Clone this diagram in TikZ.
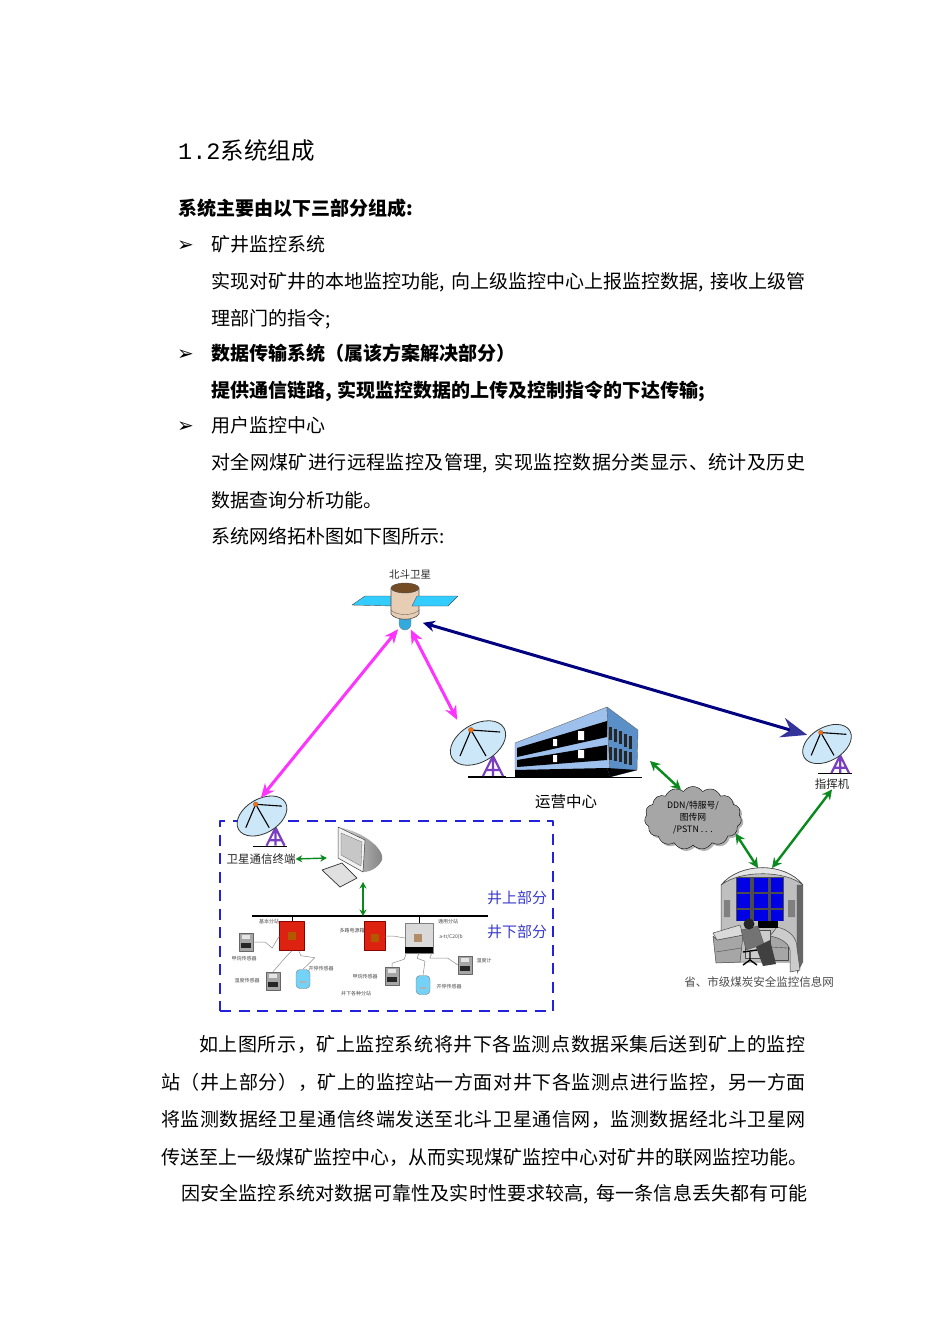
\documentclass[tikz,border=0pt]{standalone}
\usepackage{fontspec}
\setmainfont{Noto Sans CJK SC}
\newfontfamily\symfont{DejaVu Sans}
\newfontfamily\monofont{Liberation Mono}
\usetikzlibrary{arrows.meta,shapes.symbols,shadows}
\definecolor{skyfill}{HTML}{CCE8F8}
\definecolor{panelblue}{HTML}{33CCFF}
\definecolor{bldblue}{HTML}{9DC0EC}
\definecolor{bldside}{HTML}{5B8FC8}
\definecolor{linkgreen}{HTML}{0A8A1E}
\definecolor{linkpink}{HTML}{FF33FF}
\definecolor{linknavy}{HTML}{000080}
\definecolor{headnavy}{HTML}{333399}
\definecolor{boxblue}{HTML}{2222DD}
\definecolor{labelblue}{HTML}{3B3BCC}
\definecolor{standviolet}{HTML}{7A3FC0}
\definecolor{stationred}{HTML}{DD2211}
\definecolor{satbody}{HTML}{E8CDB5}
\definecolor{domeblue}{HTML}{33AADD}
\newcommand{\hc}[1]{\makebox[.65em][l]{#1}}
\newcommand{\qc}{\symbol{"FF0C}}
\newcommand{\qlp}{\symbol{"FF08}}
\newcommand{\qrp}{\symbol{"FF09}}
\newcommand{\bodyfont}{\fontsize{19}{19}\selectfont}
\newcommand{\bulletmark}{{\symfont\fontsize{20}{20}\selectfont ➢}}
\tikzset{
  bodytext/.style={anchor=west,inner sep=0,text height=15.5pt,text depth=1.1pt,font=\bodyfont},
  spaced/.style={font=\bodyfont\addfontfeature{LetterSpace=#1}},
  tinytext/.style={inner sep=0,text=black!70,font=\fontsize{5}{6}\selectfont},
  picttext/.style={inner sep=0,text=black!85,font=\fontsize{11.5}{12}\selectfont},
  bluetext/.style={inner sep=0,text=labelblue,font=\fontsize{15}{15}\selectfont},
  spot/.style={circle,inner sep=0,minimum size=#1},
  greenlink/.style={<->,>={Stealth[length=10pt,width=10pt]},linkgreen,line width=2.4pt},
  thinlink/.style={<->,>={Stealth[length=6.5pt,width=7pt]},linkgreen,line width=1.4pt},
  pinklink/.style={<->,>={Stealth[length=14pt,width=12pt]},linkpink,line width=3pt},
  wire/.style={black!45,line width=.5pt},
  dish/.pic={
    \fill[black] (-10,33) rectangle (28,34.2);
    \draw[standviolet,line width=2.2pt] (15,13) -- (5,33) (15,13) -- (25,33) (15,16) -- (15,33) (9,27) -- (21,27);
    \draw[black!80,fill=skyfill,line width=.8pt] (0,0) ellipse [x radius=30,y radius=19,rotate=30];
    \draw[black,line width=1.1pt] (-7,-13) -- (-18,13) (-7,-13) -- (8,13) (-7,-13) -- (22,-11);
    \fill[orange!85!red,draw=black!60,line width=.3pt] (-7,-13) circle (2.6);
  },
  sensor/.pic={
    \node (-box) [draw=black!60,fill=black!35,minimum width=14pt,minimum height=18pt,inner sep=0] at (0,0) {};
    \fill[black!85] (-5,1) rectangle (5,6);
    \fill[black!10] (-4,-7) rectangle (4,-3);
  },
  opensensor/.pic={
    \node (-box) [draw=black!50,fill=cyan!55,rounded corners=4pt,minimum width=14pt,minimum height=19pt,inner sep=0] at (0,0) {};
    \fill[black!30] (-3,2) rectangle (3,4);
  },
  redbox/.style={draw=red!55!black,fill=stationred,minimum width=#1,minimum height=29pt,inner sep=0},
}
\begin{document}
\begin{tikzpicture}[x=1pt,y=-1pt,line join=round]
\path[fill=white,use as bounding box] (0,0) rectangle (950,1344);

% text above the picture
\node (head) [bodytext,text height=19pt,text depth=1.3pt,font=\fontsize{23.5}{24}\selectfont] at (178,151) {{\monofont 1.2}系统组成};
\node (t0) [bodytext,font=\bodyfont\bfseries] at (178,208) {系统主要由以下三部分组成\hc{:}};
\node (m1) [bodytext] at (177,244) {\bulletmark};
\node (t1) [bodytext] at (211,244) {矿井监控系统};
\node (t2) [bodytext] at (211,281) {实现对矿井的本地监控功能\hc{,}向上级监控中心上报监控数据\hc{,}接收上级管};
\node (t3) [bodytext] at (211,318) {理部门的指令\hc{;}};
\node (m2) [bodytext] at (177,353) {\bfseries\bulletmark};
\node (t4) [bodytext,font=\bodyfont\bfseries] at (211,353) {数据传输系统\qlp 属该方案解决部分\qrp};
\node (t5) [bodytext,font=\bodyfont\bfseries] at (211,390) {提供通信链路\hc{,}实现监控数据的上传及控制指令的下达传输\hc{;}};
\node (m3) [bodytext] at (177,425) {\bulletmark};
\node (t6) [bodytext] at (211,425) {用户监控中心};
\node (t7) [bodytext,spaced=2.2] at (211,462) {对全网煤矿进行远程监控及管理\hc{,}实现监控数据分类显示、统计及历史};
\node (t8) [bodytext] at (211,500) {数据查询分析功能。};
\node (t9) [bodytext] at (211,536) {系统网络拓朴图如下图所示\hc{:}};

% satellite
\fill[panelblue,draw=black!70,line width=.4pt] (352,605) -- (365,596) -- (394,596) -- (394,606) -- cycle;
\fill[domeblue,draw=black!50,line width=.3pt] (399,619) -- (411,619) -- (411,624) arc (0:180:6) -- cycle;
\fill[satbody,draw=black!70,line width=.6pt] (391,588) -- (391,614) .. controls (396,621) and (414,621) .. (419,614) -- (419,588) -- cycle;
\draw[black!60,line width=.4pt] (391,610) .. controls (396,616) and (414,616) .. (419,610);
\fill[brown!60!black,draw=black!70] (405,588) ellipse [x radius=14,y radius=5];
\fill[panelblue,draw=black!70,line width=.4pt] (412,606) -- (417,596) -- (458,596) -- (448,606) -- cycle;
\node (sat) [spot=50pt] at (405,605) {};
\node (satname) [picttext,font=\fontsize{10.5}{11}\selectfont] at (410,575) {北斗卫星};

% dishes
\pic at (478,743) {dish};
\pic[scale=.88] at (827,744) {dish};
\node (dishB) [spot=62pt] at (478,743) {};
\node (dishC) [spot=44pt] at (827,745) {};
\node (dishA) [spot=44pt] at (262,820) {};

% building
\fill[bldblue,draw=black!60,line width=.4pt] (607,707) -- (515,743) -- (515,770) -- (610,777) -- cycle;
\fill[bldside,draw=black!60,line width=.4pt] (607,707) -- (638,730) -- (637,770) -- (610,777) -- cycle;
\fill[black] (517,748) -- (517,757) -- (607,737) -- (607,721) -- cycle;
\fill[black] (517,760) -- (517,767) -- (607,760) -- (607,745) -- cycle;
\fill[black] (515,770) -- (607,768) -- (610,777) -- (515,777) -- cycle;
\fill[black] (607,768) -- (637,770) -- (610,777) -- cycle;
\fill[white] (578,731) rectangle (584,740) (553,739) rectangle (557,746) (578,750) rectangle (584,758) (553,755) rectangle (557,762);
\foreach \k in {0,...,4} {
  \fill[black!85] (609+5*\k,727+2.2*\k) rectangle ++(3,13);
  \fill[black!85] (609+5*\k,747+1.2*\k) rectangle ++(3,13);
}
\fill[black] (468,776.5) rectangle (642,777.5);
\coordinate (bldE) at (650,761);
\node (bldname) [picttext,text=black,font=\fontsize{15.5}{16}\selectfont] at (566,802) {运营中心};
\node (cmdname) [picttext] at (832,784) {指挥机};

% cloud
\node (net) [cloud,cloud puffs=15,cloud puff arc=110,aspect=1.5,draw=black,fill=black!35,inner sep=0,
  minimum width=97pt,minimum height=63pt,align=center,text=black,font=\fontsize{8.8}{12}\selectfont,
  drop shadow={shadow xshift=2pt,shadow yshift=-2pt,fill=black!60}] at (693,818) {DDN/特服号/\\图传网\\/PSTN . . .};

% monitoring centre
\fill[black!60] (797,880) -- (803,885) -- (803,962) -- (797,974) -- cycle;
\fill[black!25,draw=black!70,line width=.5pt] (721,885) .. controls (740,862) and (785,862) .. (803,885) -- (797,885) -- (797,962) -- (721,962) -- cycle;
\fill[black!10,draw=black!70,line width=.6pt] (721,885) .. controls (740,862) and (785,862) .. (803,885) .. controls (785,870) and (740,870) .. cycle;
\fill[black!50] (724,900) rectangle (730,917) (788,900) rectangle (795,917);
\fill[black!70] (736,877) rectangle (784,921);
\foreach \px/\pw in {737/12.5,754/13.5,770.5/12.5} \foreach \py/\ph in {878/14,894/14,910/11}
  \fill[blue!90!black] (\px,\py) rectangle ++(\pw,\ph);
\coordinate (ctrA) at (758,868);
\coordinate (ctrB) at (772,868);
\fill[black!20,draw=black!70,line width=.5pt] (745,930) rectangle (770,958);
\fill[black!35,draw=black!70,line width=.5pt] (770,935) rectangle (788,960);
\draw[black!70,line width=.4pt] (770,947) -- (788,948);
\fill[black!20,draw=black!70,line width=.5pt] (777,927) .. controls (790,930) and (797,938) .. (797,948) -- (800,970) -- (790,972) -- (790,950) .. controls (788,942) and (780,938) .. (770,936) -- cycle;
\fill[black!35,draw=black!70,line width=.5pt] (713,936) -- (717,940) -- (743,935) -- (740,962) -- (716,963) -- cycle;
\fill[black!15,draw=black!70,line width=.5pt] (713,933) -- (740,925) -- (743,935) -- (717,940) -- cycle;
\draw[black!70,line width=.4pt] (716,952) -- (741,948);
\fill[black] (758,921) rectangle (778,928);
\draw[black,line width=1.4pt] (743,952) -- (757,950) (750,952) -- (750,960) (743,965) -- (750,960) -- (757,965);
\fill[black!55,draw=black!70,line width=.3pt] (741,930) -- (758,926) -- (764,944) -- (746,950) -- cycle;
\fill[black!75] (756,947) -- (770,940) -- (776,964) -- (763,966) -- cycle;
\fill[black!85] (749,924) circle (5.5);
\node (ctrname) [picttext,text=black!70] at (759,982) {省、市级煤炭安全监控信息网};

% mine site box
\node (site) [draw=boxblue,dash pattern=on 11pt off 7.5pt,line width=1.8pt,inner sep=0,minimum width=333pt,minimum height=190pt] at (386.5,916) {};
\pic[scale=.9] at (262,816) {dish};
\node (term) [picttext] at (261,859) {卫星通信终端};

% computer
\shade[left color=black!15,right color=black!50] (363,872) -- (338,858) -- (338,827) .. controls (365,832) and (385,850) .. (382,860) .. controls (378,868) and (370,872) .. cycle;
\fill[black!5,draw=black!75,line width=.5pt] (338,827) -- (338,858) -- (363,872) -- (365,840) -- cycle;
\fill[black!22,draw=black!60,line width=.3pt] (341,833) -- (341,855) -- (361,866) -- (362,842) -- cycle;
\fill[black!12,draw=black!80,line width=.7pt] (322,870) -- (342,863) -- (357,878) -- (340,887) -- cycle;
\node (pc) [inner sep=0,minimum width=36pt,minimum height=30pt] at (345,858) {};
\coordinate (pcS) at (363,882);

% bus and stations
\coordinate (busL) at (252,916);
\coordinate (busR) at (488,916);
\coordinate (busM) at (363,916);
\draw[black,line width=1.4pt] (busL) -- (busR);
\node (st1) [redbox=25pt] at (292,936) {};
\fill[orange!70!black] (288,932) rectangle (296,940);
\node (st2) [redbox=21pt] at (374.5,936) {};
\fill[orange!70!black] (371,934) rectangle (379,942);
\node (st3) [draw=black!50,fill=black!15,minimum width=28pt,minimum height=30pt,inner sep=0] at (419,938) {};
\fill[orange!50!black!60] (414,934) rectangle (422,942);
\fill[black] (405,947) rectangle (433,953);
\draw[black,line width=1pt] (st1.north |- busL) -- (st1.north);
\draw[black,line width=1pt] (st3.north |- busL) -- (st3.north);

% sensors
\pic (s1) at (246,942) {sensor};
\pic (s2) at (273,981) {sensor};
\pic (s3) at (392,976) {sensor};
\pic (s4) at (465,965) {sensor};
\pic (o1) at (303,979) {opensensor};
\pic (o2) at (423,985) {opensensor};
\draw[wire] (s1-box.east) -- ++(12,0) -- ++(7,6) -- (st1.west);
\draw[wire] (st1.south) -- ++(-6,6) -- (s2-box.north);
\draw[wire] (st1.295) -- ++(2,5) -- ++(14,2) -- (o1-box.north);
\draw[wire] (st2.east) -- ++(8,0) -- (st3.west);
\draw[wire] (st3.230) -- ++(-2,6) -- ++(-12,4) -- (s3-box.north);
\draw[wire] (st3.south) -- ++(-2,5) -- ++(8,3) -- (o2-box.north);
\draw[wire] (st3.310) -- ++(-2,5) -- ++(18,0) -- (s4-box.west);

% small labels
\node (l1) [tinytext] at (269,922) {基本分站};
\node (l2) [tinytext] at (244,959) {甲烷传感器};
\node (l3) [tinytext] at (247,981) {温度传感器};
\node (l4) [tinytext] at (321,969) {开停传感器};
\node (l5) [tinytext] at (352,931) {多路电源箱};
\node (l6) [tinytext] at (448,922) {通用分站};
\node (l7) [tinytext] at (451,937) {a-tr/C20(b};
\node (l8) [tinytext] at (365,977) {甲烷传感器};
\node (l9) [tinytext] at (449,987) {开停传感器};
\node (l10) [tinytext] at (484,961) {温度计};
\node (l11) [tinytext] at (356,994) {井下各种分站};
\node (up) [bluetext,anchor=west] at (487,898) {井上部分};
\node (down) [bluetext,anchor=west] at (487,932) {井下部分};

% links
\draw[pinklink] (sat.254) -- (dishA.93);
\draw[pinklink] (sat.283) -- (dishB.132);
\draw[{Stealth[length=12pt,width=11pt]}-{Stealth[length=26pt,width=20pt,headnavy]},linknavy,line width=3pt] (sat.-45) -- (dishC.153);
\draw[greenlink] (bldE) -- (net.113);
\draw[greenlink] (net.-20) -- (ctrA);
\draw[greenlink] (ctrB) -- (cmdname.south);
\draw[thinlink] (term.east) -- (pc.west);
\draw[thinlink] (pcS) -- (busM);

% text below the picture
\node (b1) [bodytext,spaced=3] at (199,1044) {如上图所示\qc 矿上监控系统将井下各监测点数据采集后送到矿上的监控};
\node (b2) [bodytext,spaced=2.9] at (161,1082) {站\qlp 井上部分\qrp\qc 矿上的监控站一方面对井下各监测点进行监控\qc 另一方面};
\node (b3) [bodytext,spaced=2.9] at (161,1119) {将监测数据经卫星通信终端发送至北斗卫星通信网\qc 监测数据经北斗卫星网};
\node (b4) [bodytext] at (161,1157) {传送至上一级煤矿监控中心\qc 从而实现煤矿监控中心对矿井的联网监控功能。};
\node (b5) [bodytext,spaced=1] at (181,1193) {因安全监控系统对数据可靠性及实时性要求较高\hc{,}每一条信息丢失都有可能};
\end{tikzpicture}
\end{document}
